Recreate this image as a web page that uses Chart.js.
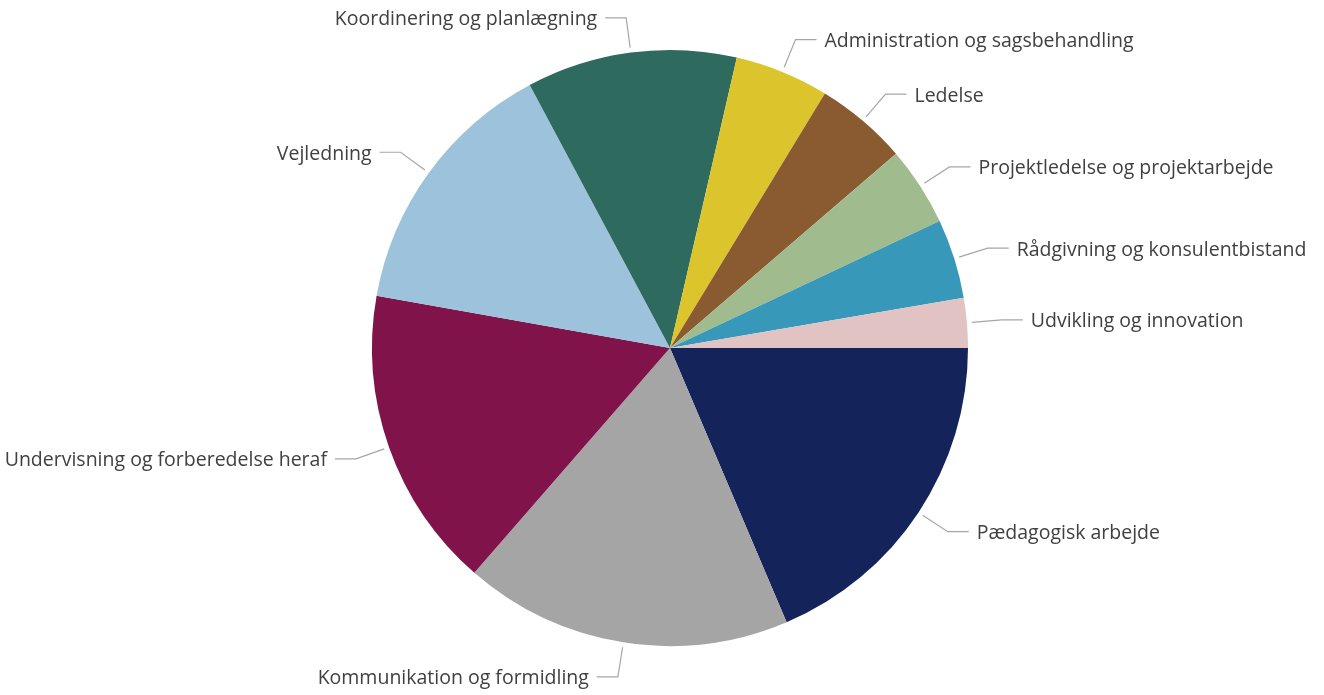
<!DOCTYPE html>
<html lang="da">
<head>
<meta charset="utf-8">
<script src="https://cdn.jsdelivr.net/npm/chart.js@4"></script>
<style>
  html, body { margin: 0; padding: 0; background: #fff; }
  .wrap { width: 1324px; height: 695px; }
</style>
</head>
<body>
<div class="wrap"><canvas id="pieChart" width="1324" height="695"></canvas></div>
<script>
const kategorier = [
  'Pædagogisk arbejde',
  'Kommunikation og formidling',
  'Undervisning og forberedelse heraf',
  'Vejledning',
  'Koordinering og planlægning',
  'Administration og sagsbehandling',
  'Ledelse',
  'Projektledelse og projektarbejde',
  'Rådgivning og konsulentbistand',
  'Udvikling og innovation'
];
const andele = [18.6, 17.8, 16.4, 14.4, 11.4, 5.1, 5.0, 4.3, 4.3, 2.7];
const farver = [
  '#14245a', '#a5a5a5', '#801349', '#9dc3dc', '#2e6b5e',
  '#dcc52c', '#8a5a30', '#a0bc8e', '#3798ba', '#e2c3c3'
];

// etiketter med hjælpelinjer udenfor lagkagen
const etiketPlugin = {
  id: 'etiketter',
  afterDatasetsDraw(chart) {
    const ctx = chart.ctx;
    const meta = chart.getDatasetMeta(0);
    ctx.save();
    ctx.font = '19.5px "Open Sans", sans-serif';
    ctx.textBaseline = 'middle';
    meta.data.forEach((arc, i) => {
      const p = arc.getProps(['x', 'y', 'startAngle', 'endAngle', 'outerRadius'], true);
      const mid = (p.startAngle + p.endAngle) / 2;
      const cos = Math.cos(mid), sin = Math.sin(mid);
      const x0 = p.x + cos * (p.outerRadius + 5);
      const y0 = p.y + sin * (p.outerRadius + 5);
      const x1 = p.x + cos * (p.outerRadius + 35);
      const y1 = p.y + sin * (p.outerRadius + 35);
      const hoejre = cos >= 0;
      const x2 = x1 + (hoejre ? 21 : -21);

      ctx.strokeStyle = '#a6a6a6';
      ctx.lineWidth = 1.2;
      ctx.beginPath();
      ctx.moveTo(x0, y0);
      ctx.lineTo(x1, y1);
      ctx.lineTo(x2, y1);
      ctx.stroke();

      ctx.fillStyle = '#404040';
      ctx.textAlign = hoejre ? 'left' : 'right';
      ctx.fillText(chart.data.labels[i], x2 + (hoejre ? 8 : -8), y1 + 2);
    });
    ctx.restore();
  }
};

new Chart(document.getElementById('pieChart').getContext('2d'), {
  type: 'pie',
  data: {
    labels: kategorier,
    datasets: [{
      data: andele,
      backgroundColor: farver,
      borderWidth: 0
    }]
  },
  options: {
    responsive: false,
    animation: false,
    rotation: 90,
    layout: { padding: { top: 50, bottom: 49, left: 16, right: 0 } },
    plugins: {
      legend: { display: false },
      tooltip: { enabled: false }
    }
  },
  plugins: [etiketPlugin]
});
</script>
</body>
</html>
